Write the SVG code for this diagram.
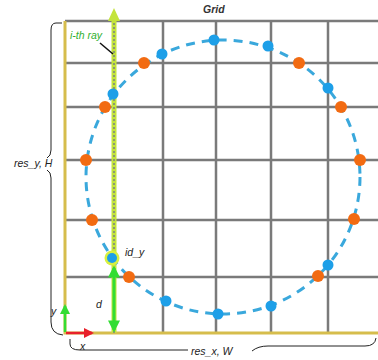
<svg xmlns="http://www.w3.org/2000/svg" width="378" height="360" viewBox="0 0 378 360">
<style>
.grid{stroke:#7a7a7a;stroke-width:2.5;fill:none}
.border{stroke:#d6bd4c;stroke-width:3;fill:none}
.blue{fill:#1d9fe8}
.orange{fill:#f26b12}
.lbl{font-family:"Liberation Sans",Arial,sans-serif;font-style:italic;font-size:10.5px;fill:#222}
.brace{stroke:#222;stroke-width:1;fill:none}
</style>
<defs>
<marker id="ga" viewBox="0 0 10 10" refX="8" refY="5" markerWidth="4" markerHeight="4" orient="auto-start-reverse"><path d="M0,0 L10,5 L0,10 z" fill="#33dd33"/></marker>
<marker id="ra" viewBox="0 0 10 10" refX="8" refY="5" markerWidth="4" markerHeight="4" orient="auto"><path d="M0,0 L10,5 L0,10 z" fill="#e8202a"/></marker>
</defs>
<rect width="378" height="360" fill="#fff"/>
<g id="grid">
<path class="grid" d="M65,21H378M65,63H378M65,107H378M65,160H378M65,220H378M65,277H378M114,21V333M163,21V333M216,21V333M271,21V333M328,21V333"/>
<path class="border" d="M65,21V333H378"/>
<text class="lbl" x="203" y="13" style="font-weight:bold;fill:#333">Grid</text>
</g>
<g id="ray">
<line x1="114" y1="333" x2="114" y2="20" stroke="#c4e43c" stroke-width="5"/>
<line x1="114" y1="333" x2="114" y2="20" stroke="#8a9a70" stroke-width="2" stroke-dasharray="2,2"/>
<path d="M114,8 L120,21 L108,21 z" fill="#c4e43c"/>
<text class="lbl" x="70" y="39" style="fill:#30b030">i-th ray</text>
<line x1="100" y1="43" x2="113" y2="54" stroke="#111" stroke-width="1.5"/>
</g>
<g id="circle">
<circle cx="223" cy="177" r="137" fill="none" stroke="#3aa8dc" stroke-width="3" stroke-dasharray="9,7"/>
</g>
<g id="dots">
<circle class="orange" cx="144" cy="63" r="6"/>
<circle class="orange" cx="299" cy="63" r="6"/>
<circle class="orange" cx="105" cy="107" r="6"/>
<circle class="orange" cx="341" cy="107" r="6"/>
<circle class="orange" cx="86" cy="160" r="6"/>
<circle class="orange" cx="360" cy="160" r="6"/>
<circle class="orange" cx="92" cy="220" r="6"/>
<circle class="orange" cx="354" cy="219" r="6"/>
<circle class="orange" cx="129" cy="277" r="6"/>
<circle class="orange" cx="318" cy="276" r="6"/>
<circle class="blue" cx="113" cy="94" r="5.5"/>
<circle class="blue" cx="162" cy="54" r="5.5"/>
<circle class="blue" cx="214" cy="40" r="5.5"/>
<circle class="blue" cx="268" cy="46" r="5.5"/>
<circle class="blue" cx="328" cy="88" r="5.5"/>
<circle class="blue" cx="328" cy="265" r="5.5"/>
<circle class="blue" cx="271" cy="306" r="5.5"/>
<circle class="blue" cx="218" cy="314" r="5.5"/>
<circle class="blue" cx="166" cy="301" r="5.5"/>
</g>
<g id="idy">
<circle cx="112" cy="258" r="7.5" fill="#d8f040"/>
<circle class="blue" cx="112" cy="258" r="5"/>
<text class="lbl" x="125" y="256">id_y</text>
</g>
<g id="d">
<line x1="114" y1="268" x2="114" y2="330" stroke="#33dd33" stroke-width="3" marker-start="url(#ga)" marker-end="url(#ga)"/>
<text class="lbl" x="96" y="308">d</text>
</g>
<g id="axes">
<line x1="65" y1="332" x2="65" y2="306" stroke="#33dd33" stroke-width="2.5" marker-end="url(#ga)"/>
<line x1="66" y1="333" x2="92" y2="333" stroke="#e8202a" stroke-width="2.5" marker-end="url(#ra)"/>
<text class="lbl" x="51" y="315">y</text>
<text class="lbl" x="80" y="350">x</text>
</g>
<g id="braces">
<path class="brace" d="M62,23 H56 Q51,23 51,30 V150 Q51,156 47,158"/>
<path class="brace" d="M47,170 Q51,172 51,178 V322 Q51,334 63,335"/>
<text class="lbl" x="14" y="167">res_y, H</text>
<path class="brace" d="M70,339 V344 Q70,350 80,350 H188"/>
<path class="brace" d="M252,351 Q258,346 268,346 H365 Q375,346 376,338"/>
<text class="lbl" x="191" y="355">res_x, W</text>
</g>
</svg>
